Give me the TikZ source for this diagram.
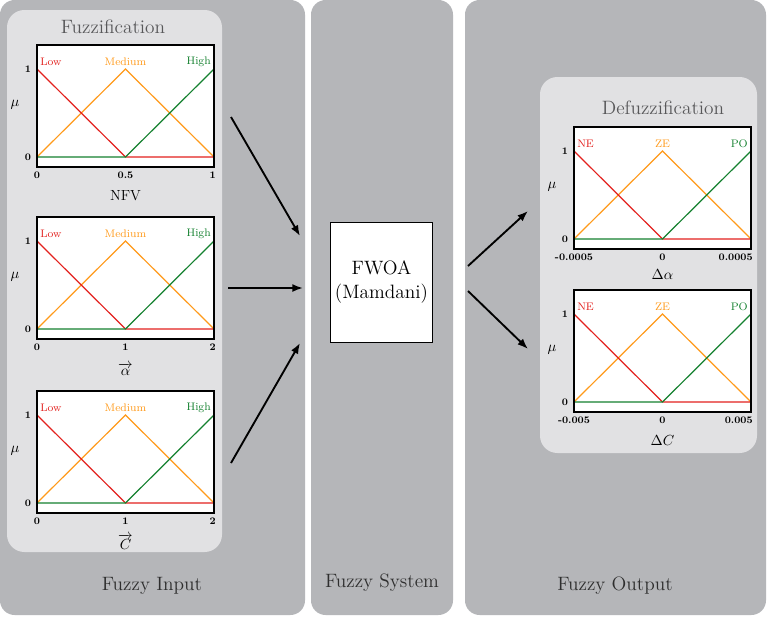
\documentclass[tikz,border=0pt]{standalone}
\usepackage{amsmath}
\usepackage{tikz}
\usetikzlibrary{arrows.meta}
\usetikzlibrary{calc}
\definecolor{panelgray}{HTML}{B5B6B9}
\definecolor{innergray}{HTML}{E1E1E3}
\definecolor{titlegray}{HTML}{58585A}
\definecolor{mfred}{HTML}{E3211E}
\definecolor{mforange}{HTML}{FF9A1A}
\definecolor{mfgreen}{HTML}{14812F}
\tikzset{
	%	panel/.style={fill=panelgray},
	panel/.style={fill=panelgray,rounded corners=11pt},
	inner panel/.style={fill=innergray,rounded corners=13pt},
	plotbox/.style={draw,line width=1.1pt},
	mfline/.style={line width=0.9pt},
	mflabel/.style={inner sep=0pt,font=\fontsize{8.2}{9}\selectfont},
	tick label/.style={inner sep=0pt,font=\fontsize{7.5}{9}\selectfont\bfseries},
	axis label/.style={inner sep=0pt,font=\fontsize{11}{13}\selectfont},
	big label/.style={font=\fontsize{14.5}{17}\selectfont},
	edge/.style={-{Latex[length=8pt,width=6pt]},line width=1.4pt}
}

\begin{document}
\begin{tikzpicture}[x=0.75pt,y=-0.75pt]
	\useasboundingbox (0,0) rectangle (768,618);
	\fill[white] (0,0) rectangle (768,618);
	
	% three stages
	\fill[panel] (0,0) rectangle (305,615);
	\fill[panel] (311,0) rectangle (453,615);
	\fill[panel] (465,0) rectangle (766,615);
	\fill[inner panel] (7,10) rectangle (222,552);
	\fill[inner panel] (540,77) rectangle (757,453);
	
	\node[big label,text=titlegray] (fuzzif) at (113,27) {Fuzzification};
	\node[big label,text=titlegray] (defuzzif) at (663,108) {Defuzzification};
	
	% membership functions
	\foreach \nm/\px/\py/\la/\lb/\lc/\ta/\tb/\tc/\ax/\ay in {
		nfv/37/45/Low/Medium/High/0/0.5/1/NFV/155,
		alpha/37/217/Low/Medium/High/0/1/2/{$\overrightarrow{\alpha}$}/158,
		cc/37/391/Low/Medium/High/0/1/2/{$\overrightarrow{C}$}/158,
		dalpha/574/127/NE/ZE/PO/-0.0005/0/0.0005/{$\Delta\alpha$}/152,
		dc/574/290/NE/ZE/PO/-0.005/0/0.005/{$\Delta C$}/155}
	{
		\begin{scope}[shift={(\px,\py)}]
			\fill[white] (0,0) rectangle (177,122);
			\draw[mfline,mforange] (0,112) -- (88.5,24) -- (177,112);
			\draw[mfline,mfred] (0,24) -- (88.5,112) -- (177,112);
			\draw[mfline,mfgreen] (0,112) -- (88.5,112) -- (177,24);
			\draw[plotbox] (0,0) rectangle (177,122);
			\node[mflabel,text=mfred,anchor=west] (\nm-a) at (3,17) {\la};
			\node[mflabel,text=mforange] (\nm-b) at (88.5,17) {\lb};
			\node[mflabel,text=mfgreen,anchor=east] (\nm-c) at (174,17) {\lc};
			\node[tick label] (\nm-one) at (-9,24) {1};
			\node[tick label] (\nm-zero) at (-9,112) {0};
			\node[axis label] (\nm-mu) at (-22,60) {$\mu$};
			\node[tick label] (\nm-ta) at (0,130) {\ta};
			\node[tick label] (\nm-tb) at (88.5,130) {\tb};
			\node[tick label,anchor=east] (\nm-tc) at (179,130) {\tc};
			\node[axis label,anchor=base,text height=9pt,text depth=1pt] (\nm-ax) at (88.5,\ay) {\ax};
		\end{scope}
	}
	
	% inference
	\node[draw,fill=white,line width=0.9pt,minimum width=75pt,minimum height=90pt,
		align=center,big label] (fwoa) at (381.5,282.5) {FWOA\\[1pt](Mamdani)};
	
	\coordinate (nfv-out) at (231,117);
	\coordinate (alpha-out) at (228,288);
	\coordinate (cc-out) at (231,463);
	\coordinate (sys-in1) at (300,236);
	\coordinate (sys-in2) at (303,288);
	\coordinate (sys-in3) at (300,343);
	\coordinate (sys-out1) at (468,266);
	\coordinate (sys-out2) at (468,291);
	\coordinate (dalpha-in) at (528,211);
	\coordinate (dc-in) at (528,349);
	
	\draw[edge] (nfv-out) -- (sys-in1);
	\draw[edge] (alpha-out) -- (sys-in2);
	\draw[edge] (cc-out) -- (sys-in3);
	\draw[edge] (sys-out1) -- (dalpha-in);
	\draw[edge] (sys-out2) -- (dc-in);
	
	\node[big label,text=black!82] (input) at (152,586) {Fuzzy Input};
	\node[big label,text=black!82] (system) at (382,583) {Fuzzy System};
	\node[big label,text=black!82] (output) at (615,586) {Fuzzy Output};
\end{tikzpicture}
\end{document}
